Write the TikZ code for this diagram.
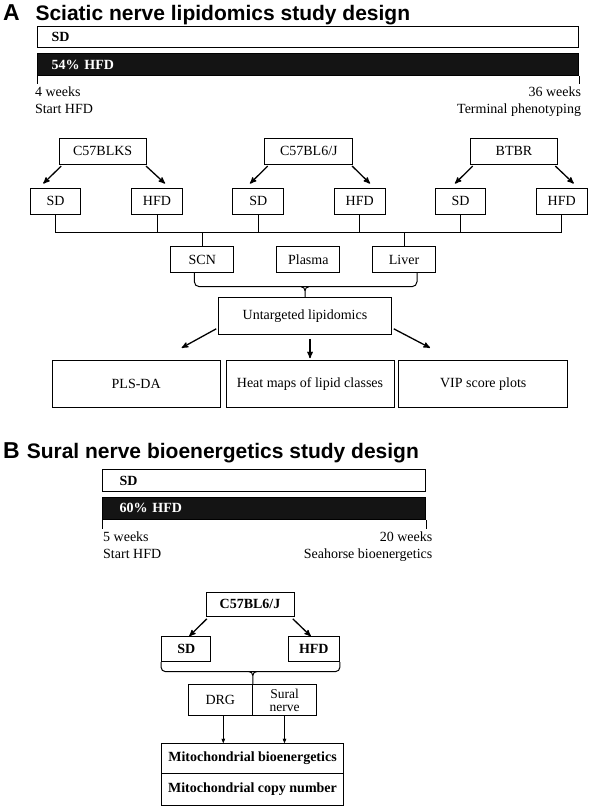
\documentclass[tikz,border=0pt]{standalone}
\usepackage{fontspec}
\setmainfont{Liberation Serif}
\newfontfamily\headfont{Liberation Sans}
\usetikzlibrary{arrows}

\begin{document}
\begin{tikzpicture}[x=1pt,y=-1pt,>=stealth',line width=1pt,
  box/.style={draw,rectangle,inner sep=0pt,minimum height=25.7pt,font=\fontsize{14}{17}\selectfont},
  bbox/.style={box,font=\fontsize{14}{17}\selectfont\bfseries},
  bar/.style={draw,rectangle,inner xsep=0pt,inner ysep=0pt,align=left,font=\fontsize{14}{17}\selectfont\bfseries},
  week/.style={inner sep=0pt,font=\fontsize{14}{17}\selectfont},
  head/.style={inner sep=0pt,anchor=base west,font=\headfont\bfseries\fontsize{21}{25}\selectfont},
  arr/.style={->,line width=1.3pt}]

  \useasboundingbox (0,0) rectangle (590,808);

  % panel A
  \node[head,font=\headfont\bfseries\fontsize{23}{26}\selectfont] (labA) at (2.5,20.7) {A};
  \node[head] (titleA) at (35,20.7) {Sciatic nerve lipidomics study design};

  \node[bar,minimum width=541.3pt,minimum height=20.5pt,text width=513pt] (sdbarA) at (308.2,37.2) {SD};
  \node[bar,fill=black!92,text=white,minimum width=541.3pt,minimum height=22pt,text width=513pt] (hfdbarA) at (308.2,64.5) {54\% HFD};
  \draw[line width=0.6pt] (hfdbarA.south west) -- ++(0,8);
  \draw[line width=0.6pt] (hfdbarA.south east) -- ++(0,8);
  \node[week,anchor=north west,align=left] (startA) at (34.5,86) {4 weeks\\Start HFD};
  \node[week,anchor=north east,align=right] (endA) at (581.5,86) {36 weeks\\Terminal phenotyping};

  \node[box,minimum width=86.7pt] (blks) at (102.7,151.2) {C57BLKS};
  \node[box,minimum width=87.7pt] (bl6) at (308.8,151.2) {C57BL6/J};
  \node[box,minimum width=86.7pt] (btbr) at (514,151.2) {BTBR};

  \node[box,minimum width=50.7pt] (sdA1) at (55.5,201.2) {SD};
  \node[box,minimum width=50.7pt] (hfdA1) at (157,201.2) {HFD};
  \node[box,minimum width=50.7pt] (sdA2) at (258.3,201.2) {SD};
  \node[box,minimum width=50.7pt] (hfdA2) at (359.7,201.2) {HFD};
  \node[box,minimum width=50.7pt] (sdA3) at (460.5,201.2) {SD};
  \node[box,minimum width=50.7pt] (hfdA3) at (561.7,201.2) {HFD};

  \draw[arr] ([shift={(2.4,1.5)}]blks.south west) -- ([shift={(-12.2,-4.3)}]sdA1.north);
  \draw[arr] ([shift={(-0.5,1.5)}]blks.south east) -- ([shift={(8,-4.3)}]hfdA1.north);
  \draw[arr] ([shift={(3.3,1.5)}]bl6.south west) -- ([shift={(-8.3,-4.3)}]sdA2.north);
  \draw[arr] ([shift={(-1,1.5)}]bl6.south east) -- ([shift={(10.3,-4.3)}]hfdA2.north);
  \draw[arr] ([shift={(2.6,1.5)}]btbr.south west) -- ([shift={(-5.5,-4.3)}]sdA3.north);
  \draw[arr] ([shift={(-2.5,1.5)}]btbr.south east) -- ([shift={(12,-4.3)}]hfdA3.north);

  \node[box,minimum width=63.3pt] (scn) at (202.3,259.5) {SCN};
  \node[box,minimum width=63.3pt] (plasma) at (308.3,259.5) {Plasma};
  \node[box,minimum width=63.3pt] (liver) at (404,259.5) {Liver};

  % tissue bus
  \coordinate (busA) at (0,232.3);
  \draw (sdA1.south) |- (busA -| hfdA3.south) -- (hfdA3.south);
  \draw (hfdA1.south) -- (hfdA1.south |- busA);
  \draw (sdA2.south) -- (sdA2.south |- busA);
  \draw (hfdA2.south) -- (hfdA2.south |- busA);
  \draw (sdA3.south) -- (sdA3.south |- busA);
  \draw (scn.north) -- (scn.north |- busA);
  \draw (liver.north) -- (liver.north |- busA);

  \node[box,minimum width=173.3pt,minimum height=36.6pt] (untar) at (305,316) {Untargeted lipidomics};

  % brace to lipidomics
  \coordinate (brA) at (0,286.7);
  \coordinate (tipA) at (untar.north |- brA);
  \draw[rounded corners=5pt] ([xshift=-8pt]scn.south) |- (tipA) -| ([xshift=13pt]liver.south);
  \draw ([xshift=-4pt]tipA) to[out=0,in=90] ([yshift=-4pt]tipA) -- (untar.north);
  \draw ([xshift=4pt]tipA) to[out=180,in=90] ([yshift=-4pt]tipA);

  \node[box,minimum width=168pt,minimum height=47pt] (plsda) at (136.2,384.2) {PLS-DA};
  \node[box,minimum width=168pt,minimum height=47pt] (heat) at (310,384.2) {Heat maps of lipid classes};
  \node[box,minimum width=168.7pt,minimum height=47pt] (vip) at (483.2,384.2) {VIP score plots};

  \draw[arr] ([shift={(-1.6,-6)}]untar.south west) -- ([shift={(45.5,-12.4)}]plsda.north);
  \draw[arr] ([yshift=-4pt]heat.north |- untar.south) -- ([yshift=2pt]heat.north);
  \draw[arr] ([shift={(1.6,-6)}]untar.south east) -- ([shift={(-53.2,-12.4)}]vip.north);

  % panel B
  \node[head,font=\headfont\bfseries\fontsize{23}{26}\selectfont] (labB) at (2.5,458.3) {B};
  \node[head] (titleB) at (26.3,458.3) {Sural nerve bioenergetics study design};

  \node[bar,minimum width=323pt,minimum height=21.7pt,text width=289pt] (sdbarB) at (264.2,480.8) {SD};
  \node[bar,fill=black!92,text=white,minimum width=323pt,minimum height=22pt,text width=289pt] (hfdbarB) at (264.2,508.3) {60\% HFD};
  \draw[line width=0.6pt] (hfdbarB.south west) -- ++(0,9);
  \draw[line width=0.6pt] (hfdbarB.south east) -- ++(0,9);
  \node[week,anchor=north west,align=left] (startB) at (102.7,531) {5 weeks\\Start HFD};
  \node[week,anchor=north east,align=right] (endB) at (432.8,531) {20 weeks\\Seahorse bioenergetics};

  \node[bbox,minimum width=88pt,minimum height=24pt] (bl6B) at (250,604) {C57BL6/J};
  \node[bbox,minimum width=49.3pt,minimum height=25pt] (sdB) at (186.3,649.2) {SD};
  \node[bbox,minimum width=51pt,minimum height=25pt] (hfdB) at (313.8,649.2) {HFD};

  \draw[arr] ([shift={(1.3,2.3)}]bl6B.south west) -- ([xshift=3pt]sdB.north);
  \draw[arr] ([shift={(-1.7,2.3)}]bl6B.south east) -- ([xshift=-3pt]hfdB.north);

  \node[box,minimum width=64pt,minimum height=31.4pt] (drg) at (220.3,700) {DRG};
  \node[box,minimum width=64.4pt,minimum height=31.4pt,align=center,
    font=\fontsize{13.5}{13}\selectfont] (sural) at (284.5,700) {Sural\\nerve};

  % brace to tissues
  \coordinate (brB) at (0,671.5);
  \coordinate (tipB) at (drg.north east |- brB);
  \draw[rounded corners=4pt] (sdB.south west) |- (tipB) -| (hfdB.south east);
  \draw ([xshift=-4pt]tipB) to[out=0,in=90] ([yshift=-4pt]tipB) -- (drg.north east);
  \draw ([xshift=4pt]tipB) to[out=180,in=90] ([yshift=-4pt]tipB);

  \node[bbox,minimum width=181.6pt,minimum height=30pt] (mito) at (252.5,758.3) {Mitochondrial bioenergetics};
  \node[bbox,minimum width=181.6pt,minimum height=31.7pt] (copy) at (252.5,789.2) {Mitochondrial copy number};

  \draw[->,line width=0.6pt] ([xshift=3pt]drg.south) -- ([xshift=3pt]drg.south |- mito.north);
  \draw[->,line width=0.6pt] (sural.south) -- (sural.south |- mito.north);

\end{tikzpicture}
\end{document}
